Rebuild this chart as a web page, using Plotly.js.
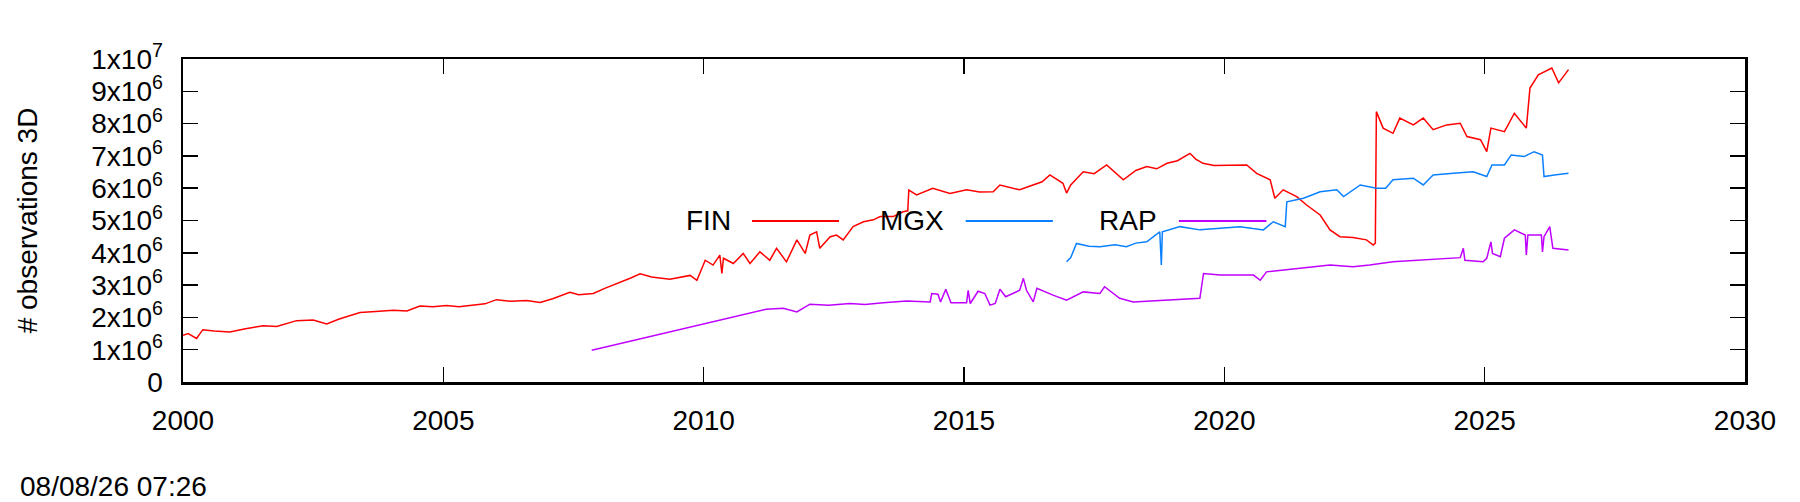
<!DOCTYPE html>
<html>
<head>
<meta charset="utf-8">
<script src="https://cdn.plot.ly/plotly-3.0.1.min.js"></script>
<style>
  html, body { margin: 0; padding: 0; background: #fff; }
  #chart { width: 1800px; height: 502px; }
</style>
</head>
<body>
<div id="chart"></div>
<script>
// values, x in decimal years, y in millions of observations
var finYears = [2000.00, 2000.10, 2000.26, 2000.38, 2000.60, 2000.90, 2001.20, 2001.54, 2001.80, 2002.18,
  2002.50, 2002.76, 2003.00, 2003.40, 2003.70, 2004.04, 2004.30, 2004.55, 2004.80, 2005.06,
  2005.30, 2005.57, 2005.80, 2006.02, 2006.30, 2006.60, 2006.86, 2007.10, 2007.43, 2007.60,
  2007.88, 2008.10, 2008.39, 2008.60, 2008.78, 2009.00, 2009.35, 2009.55, 2009.74, 2009.87,
  2010.03, 2010.18, 2010.31, 2010.35, 2010.38, 2010.57, 2010.76, 2010.89, 2011.08, 2011.27,
  2011.40, 2011.59, 2011.79, 2011.95, 2012.04, 2012.17, 2012.23, 2012.43, 2012.55, 2012.68,
  2012.87, 2013.07, 2013.26, 2013.39, 2013.64, 2013.83, 2013.92, 2013.94,
  2014.09, 2014.40, 2014.73, 2015.05, 2015.30, 2015.56, 2015.69, 2016.07, 2016.33, 2016.50,
  2016.65, 2016.90, 2016.97, 2017.05, 2017.29, 2017.50, 2017.74, 2017.90, 2018.06, 2018.30,
  2018.51, 2018.70, 2018.90, 2019.10, 2019.34, 2019.45, 2019.59, 2019.80, 2020.10, 2020.43,
  2020.62, 2020.88, 2020.97, 2021.13, 2021.39, 2021.58, 2021.84, 2022.03, 2022.22, 2022.47,
  2022.73, 2022.86, 2022.90, 2022.92, 2023.05, 2023.24, 2023.37, 2023.63, 2023.82, 2024.01,
  2024.27, 2024.53, 2024.66, 2024.92, 2025.04, 2025.12, 2025.38, 2025.57, 2025.80, 2025.87,
  2026.03, 2026.29, 2026.42, 2026.61];
var finObs = [1.45, 1.50, 1.35, 1.62, 1.58, 1.55, 1.65, 1.74, 1.72, 1.90,
  1.92, 1.80, 1.95, 2.15, 2.18, 2.22, 2.20, 2.35, 2.33, 2.37,
  2.33, 2.38, 2.42, 2.55, 2.50, 2.52, 2.46, 2.58, 2.78, 2.70,
  2.74, 2.90, 3.08, 3.22, 3.35, 3.25, 3.18, 3.25, 3.30, 3.15,
  3.77, 3.62, 3.93, 3.36, 3.83, 3.67, 3.98, 3.67, 4.03, 3.77,
  4.14, 3.72, 4.40, 3.98, 4.55, 4.65, 4.14, 4.50, 4.55, 4.40,
  4.81, 4.96, 5.02, 5.12, 5.12, 5.27, 5.30, 5.94,
  5.79, 6.00, 5.84, 5.95, 5.88, 5.89, 6.10, 5.95, 6.10, 6.20,
  6.41, 6.15, 5.85, 6.10, 6.51, 6.45, 6.72, 6.50, 6.26, 6.55,
  6.67, 6.60, 6.77, 6.85, 7.08, 6.90, 6.77, 6.70, 6.72, 6.72,
  6.46, 6.26, 5.69, 5.95, 5.74, 5.48, 5.17, 4.71, 4.50, 4.47,
  4.40, 4.24, 4.30, 8.37, 7.86, 7.70, 8.17, 7.96, 8.17, 7.81,
  7.96, 8.01, 7.60, 7.50, 7.13, 7.86, 7.75, 8.32, 7.86, 9.10,
  9.51, 9.72, 9.26, 9.67];

var mgxYears = [2016.97, 2017.05, 2017.16, 2017.40, 2017.61, 2017.90, 2018.12, 2018.30, 2018.51, 2018.76,
  2018.79, 2018.81, 2019.15, 2019.53, 2019.92, 2020.30, 2020.55, 2020.75, 2020.94, 2021.17,
  2021.20, 2021.52, 2021.84, 2022.16, 2022.29, 2022.61, 2022.92, 2023.10, 2023.24, 2023.63,
  2023.82, 2024.01, 2024.40, 2024.78, 2025.04, 2025.14, 2025.38, 2025.51, 2025.76, 2025.95,
  2026.11, 2026.14, 2026.34, 2026.61];
var mgxObs = [3.72, 3.85, 4.29, 4.20, 4.19, 4.25, 4.19, 4.30, 4.34, 4.65,
  3.62, 4.65, 4.81, 4.71, 4.76, 4.81, 4.75, 4.71, 4.96, 4.81,
  5.58, 5.69, 5.89, 5.95, 5.74, 6.10, 6.00, 6.00, 6.26, 6.31,
  6.10, 6.41, 6.46, 6.51, 6.36, 6.72, 6.72, 7.03, 6.98, 7.13,
  7.03, 6.36, 6.41, 6.46];

var rapYears = [2007.85, 2010.95, 2011.20, 2011.53, 2011.79, 2012.04, 2012.40, 2012.81, 2013.10, 2013.45,
  2013.90, 2014.35, 2014.38, 2014.50, 2014.55, 2014.65, 2014.75, 2015.05, 2015.08, 2015.12,
  2015.27, 2015.40, 2015.50, 2015.60, 2015.69, 2015.80, 2016.07, 2016.14, 2016.20, 2016.33,
  2016.40, 2016.71, 2016.97, 2017.29, 2017.61, 2017.70, 2017.99, 2018.25, 2018.90, 2019.53,
  2019.60, 2019.92, 2020.56, 2020.69, 2020.81, 2021.52, 2022.03, 2022.47, 2022.79, 2023.24,
  2023.75, 2024.27, 2024.53, 2024.59, 2024.62, 2024.97, 2025.04, 2025.12, 2025.15, 2025.30,
  2025.38, 2025.57, 2025.78, 2025.80, 2025.83, 2026.09, 2026.11, 2026.14, 2026.25, 2026.31,
  2026.61];
var rapObs = [0.98, 2.17, 2.25, 2.28, 2.17, 2.41, 2.38, 2.43, 2.40, 2.45,
  2.51, 2.48, 2.74, 2.72, 2.48, 2.87, 2.45, 2.45, 2.84, 2.43,
  2.81, 2.74, 2.38, 2.43, 2.87, 2.64, 2.84, 3.21, 2.84, 2.48,
  2.90, 2.69, 2.53, 2.79, 2.74, 2.95, 2.59, 2.48, 2.53, 2.59,
  3.36, 3.31, 3.31, 3.15, 3.41, 3.52, 3.62, 3.57, 3.62, 3.72,
  3.77, 3.81, 3.85, 4.14, 3.77, 3.72, 3.83, 4.34, 3.98, 3.88,
  4.45, 4.71, 4.55, 3.93, 4.55, 4.55, 4.03, 4.50, 4.81, 4.14,
  4.09];

var seriesNames = ["FIN", "MGX", "RAP"];
var seriesColors = ["#ff0000", "#0a80ff", "#c000ff"];

var xTicks = [2000, 2005, 2010, 2015, 2020, 2025, 2030];
var yTicks = [0, 1e6, 2e6, 3e6, 4e6, 5e6, 6e6, 7e6, 8e6, 9e6, 1e7];
var yTickText = ["0", "1x10<sup>6</sup>", "2x10<sup>6</sup>", "3x10<sup>6</sup>", "4x10<sup>6</sup>",
  "5x10<sup>6</sup>", "6x10<sup>6</sup>", "7x10<sup>6</sup>", "8x10<sup>6</sup>", "9x10<sup>6</sup>",
  "1x10<sup>7</sup>"];
var stamp = "08/08/26 07:26";

function toCount(arr) {
  return arr.map(function(v) { return v * 1e6; });
}

var font = "Liberation Sans, Arial, sans-serif";
var xs = [finYears, mgxYears, rapYears];
var ys = [finObs, mgxObs, rapObs];

var traces = seriesNames.map(function(name, i) {
  return {
    x: xs[i], y: toCount(ys[i]), name: name, type: "scatter", mode: "lines",
    line: {color: seriesColors[i], width: 1.5}, showlegend: false
  };
});

// gnuplot style key: label first, then a short line sample
var keyText = [0.3518, 0.4883, 0.6246];
var keyLine = [[0.3643, 0.4200], [0.5011, 0.5569], [0.6376, 0.6936]];
var keyY = 0.4985;

var annotations = seriesNames.map(function(name, i) {
  return {text: name, xref: "paper", yref: "paper", x: keyText[i], y: keyY,
    xanchor: "right", yanchor: "middle", showarrow: false,
    font: {family: font, size: 28, color: "#000"}};
});
annotations.push({text: stamp, xref: "paper", yref: "paper", x: -0.1056, y: -0.3235,
  xanchor: "left", yanchor: "middle", showarrow: false,
  font: {family: font, size: 28, color: "#000"}});

var shapes = seriesNames.map(function(name, i) {
  return {type: "line", xref: "paper", yref: "paper",
    x0: keyLine[i][0], x1: keyLine[i][1], y0: keyY, y1: keyY,
    line: {color: seriesColors[i], width: 2}};
});

var axisBase = {
  showgrid: false, zeroline: false, showline: true, linecolor: "#000", linewidth: 2.5,
  mirror: "ticks", ticks: "inside", ticklen: 15, tickwidth: 1.5, tickcolor: "#000",
  tickfont: {family: font, size: 28, color: "#000"}
};

var layout = {
  width: 1800, height: 502,
  margin: {l: 183, r: 55, t: 59, b: 120, pad: 0},
  paper_bgcolor: "#fff", plot_bgcolor: "#fff",
  showlegend: false,
  xaxis: Object.assign({}, axisBase, {
    range: [2000, 2030], tickmode: "array", tickvals: xTicks,
    ticktext: xTicks.map(String), ticklabelstandoff: 12
  }),
  yaxis: Object.assign({}, axisBase, {
    range: [0, 1e7], tickmode: "array", tickvals: yTicks, ticktext: yTickText,
    ticklabelstandoff: 12,
    title: {text: "# observations 3D", font: {family: font, size: 28, color: "#000"}, standoff: 46}
  }),
  annotations: annotations,
  shapes: shapes
};

Plotly.newPlot(document.getElementById("chart"), traces, layout, {displayModeBar: false, staticPlot: true});
</script>
</body>
</html>
